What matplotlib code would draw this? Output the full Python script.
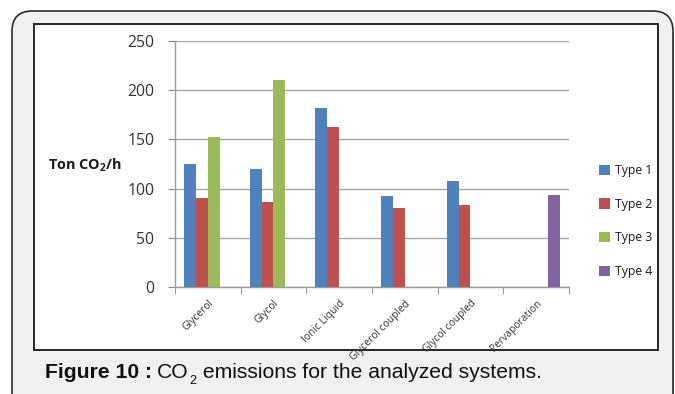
import matplotlib
matplotlib.use("Agg")
import matplotlib.pyplot as plt
import numpy as np
from matplotlib.patches import FancyBboxPatch, Rectangle

plt.rcParams["mathtext.fontset"] = "custom"
plt.rcParams["mathtext.rm"] = "Open Sans"
plt.rcParams["mathtext.bf"] = "Open Sans:bold"

# Data
categories = ["Glycerol", "Glycol", "Ionic Liquid", "Glycerol coupled",
              "Glycol coupled", "Pervaporation"]
series_names = ["Type 1", "Type 2", "Type 3", "Type 4"]
type1 = [125, 120, 182, 92, 108, np.nan]
type2 = [90, 86, 163, 80, 83, np.nan]
type3 = [152, 210, np.nan, np.nan, np.nan, np.nan]
type4 = [np.nan, np.nan, np.nan, np.nan, np.nan, 93]
yticks = [0, 50, 100, 150, 200, 250]
colors = ["#4F81BD", "#C0504D", "#9BBB59", "#8064A2"]

W, H = 675, 394
fig = plt.figure(figsize=(W / 100, H / 100), dpi=100)
fig.patch.set_facecolor("white")

def fx(px):
    return px / W

def fy(py):
    return 1 - py / H

# outer rounded panel
panel = FancyBboxPatch((fx(12), fy(420)), fx(661), (420 - 11) / H,
                       boxstyle="round,pad=0,rounding_size=0.03",
                       transform=fig.transFigure, facecolor="#eff0f1",
                       edgecolor="#2b2b2b", linewidth=1.2, zorder=0,
                       mutation_aspect=W / H)
fig.patches.append(panel)

# white chart frame
frame = Rectangle((fx(34), fy(350)), fx(658) - fx(34), (350 - 24) / H,
                  transform=fig.transFigure, facecolor="white",
                  edgecolor="#262626", linewidth=1.4, zorder=1)
fig.patches.append(frame)

ax = fig.add_axes([fx(175), fy(287), fx(569) - fx(175), (287 - 41) / H])
ax.set_zorder(2)
ax.patch.set_alpha(0)

x = np.arange(len(categories))
bw = 1 / 5.5
all_series = [type1, type2, type3, type4]
handles = []
for i, (vals, c, name) in enumerate(zip(all_series, colors, series_names)):
    h = ax.bar(x + (i - 1.5) * bw, vals, width=bw, color=c, label=name,
               edgecolor="none", zorder=3)
    handles.append(h)

ax.set_xlim(-0.5, len(categories) - 0.5)
ax.set_ylim(0, 250)
ax.set_yticks(yticks)
ax.set_yticklabels([str(t) for t in yticks], fontsize=11.3,
                   family="Open Sans", color="#333333")
ax.yaxis.grid(True, color="#a6a6a6", linewidth=1.0, zorder=0)
ax.set_axisbelow(True)

ax.set_xticks(x)
ax.set_xticklabels(categories, rotation=45, ha="right",
                   rotation_mode="anchor", fontsize=7.4, family="Open Sans",
                   color="#333333")
ax.set_xticks(np.arange(-0.5, len(categories)), minor=True)
ax.tick_params(axis="x", which="major", length=0, pad=8)
ax.tick_params(axis="x", which="minor", length=5, color="#888888",
               direction="out")
ax.tick_params(axis="y", length=5, color="#888888", pad=10)

for s in ["top", "right"]:
    ax.spines[s].set_visible(False)
for s in ["left", "bottom"]:
    ax.spines[s].set_color("#9a9a9a")
    ax.spines[s].set_linewidth(1.0)

# y-axis title
fig.text(fx(48), fy(165), r"Ton CO$_\mathbf{2}$/h", fontsize=10.4,
         fontweight="bold", family="Open Sans", color="#1a1a1a",
         ha="left", va="center", zorder=3)

# legend
leg = fig.legend(handles=handles, labels=series_names,
                 loc="center left", bbox_to_anchor=(fx(588), fy(221)),
                 frameon=False, handlelength=0.9,
                 handleheight=0.9, handletextpad=0.4, labelspacing=1.68,
                 prop={"family": "Open Sans", "size": 8.8})
for t in leg.get_texts():
    t.set_color("#1a1a1a")

# caption
fig.canvas.draw()
renderer = fig.canvas.get_renderer()
base_y = fy(378)
cap_size = 15.2
t1 = fig.text(fx(45), base_y, "Figure 10 :", fontsize=cap_size,
              fontweight="bold", family="Liberation Sans", color="#111111",
              va="baseline", ha="left")
bb = t1.get_window_extent(renderer)
space = 5
t2 = fig.text((bb.x1 + space) / W, base_y, "CO", fontsize=cap_size,
              family="Liberation Sans", color="#111111", va="baseline",
              ha="left")
bb = t2.get_window_extent(renderer)
t3 = fig.text((bb.x1 + 0.5) / W, base_y - 6 / H, "2", fontsize=cap_size * 0.6,
              family="Liberation Sans", color="#111111", va="baseline",
              ha="left")
bb = t3.get_window_extent(renderer)
fig.text((bb.x1 + 1) / W, base_y, " emissions for the analyzed systems.",
         fontsize=cap_size, family="Liberation Sans", color="#111111",
         va="baseline", ha="left")

fig.savefig("out.png", dpi=100)
